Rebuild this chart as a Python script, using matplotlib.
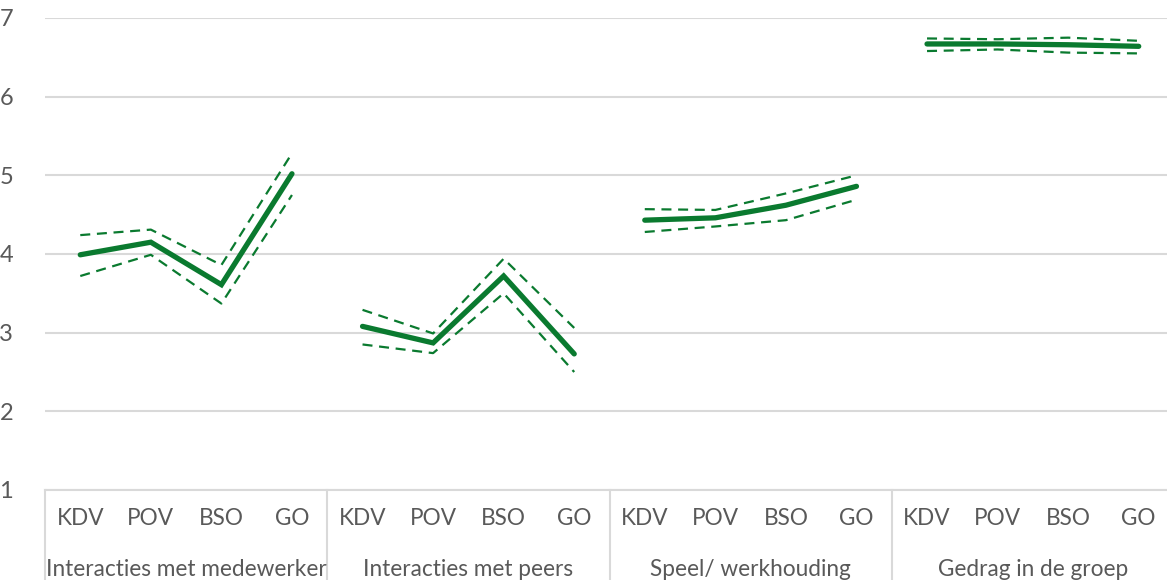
import numpy as np
import matplotlib
matplotlib.use("Agg")
import matplotlib.pyplot as plt
import matplotlib.transforms as mtransforms

plt.rcParams['font.family'] = ['Lato', 'DejaVu Sans']

# Data
groups = ["Interacties met medewerker", "Interacties met peers",
          "Speel/ werkhouding", "Gedrag in de groep"]
settings = ["KDV", "POV", "BSO", "GO"]

mean = [[3.99, 4.15, 3.61, 5.02],
        [3.08, 2.87, 3.72, 2.73],
        [4.43, 4.46, 4.62, 4.86],
        [6.67, 6.67, 6.66, 6.64]]
upper = [[4.24, 4.31, 3.86, 5.28],
         [3.29, 2.99, 3.94, 3.06],
         [4.57, 4.56, 4.77, 5.00],
         [6.74, 6.73, 6.75, 6.71]]
lower = [[3.72, 3.99, 3.37, 4.75],
         [2.85, 2.74, 3.50, 2.50],
         [4.28, 4.35, 4.43, 4.69],
         [6.58, 6.60, 6.56, 6.55]]

green = '#0a7a2f'
grid_c = '#d9d9d9'
text_c = '#595959'

W, H = 1167, 580
fig = plt.figure(figsize=(W / 100, H / 100), dpi=100)
left, right, bottom, top = 45, 1174, 490, 18
ax = fig.add_axes([left / W, (H - bottom) / H, (right - left) / W, (bottom - top) / H])

n = len(settings)
for g in range(len(groups)):
    xs = np.arange(n) + g * n
    ax.plot(xs, upper[g], color=green, lw=1.6, dashes=(4.5, 3.0))
    ax.plot(xs, lower[g], color=green, lw=1.6, dashes=(4.5, 3.0))
    ax.plot(xs, mean[g], color=green, lw=3.8, solid_capstyle='round', solid_joinstyle='miter')

ax.set_xlim(-0.5, len(groups) * n - 0.5)
ax.set_ylim(1, 7)
ax.set_yticks(range(1, 8))
ax.yaxis.grid(True, color=grid_c, lw=1.5)
ax.set_axisbelow(True)
for s in ['top', 'right', 'left']:
    ax.spines[s].set_visible(False)
ax.spines['bottom'].set_color(grid_c)
ax.spines['bottom'].set_linewidth(1.5)
ax.tick_params(axis='y', length=0, pad=23, labelsize=17, labelcolor=text_c)

ax.set_xticks(np.arange(len(groups) * n))
ax.set_xticklabels(settings * len(groups))
ax.tick_params(axis='x', length=0, pad=13, labelsize=16.3, labelcolor=text_c)

trans = mtransforms.blended_transform_factory(ax.transData, ax.transAxes)
for g in range(len(groups) + 1):
    xb = g * n - 0.5
    ax.plot([xb, xb], [0, -90 / 472], transform=trans, color=grid_c, lw=1.5, clip_on=False)
for g, name in enumerate(groups):
    ax.text(g * n + (n - 1) / 2, -79 / 472, name, transform=trans, ha='center', va='center',
            fontsize=16.3, color=text_c)

fig.savefig('out.png', dpi=100, facecolor='white')
